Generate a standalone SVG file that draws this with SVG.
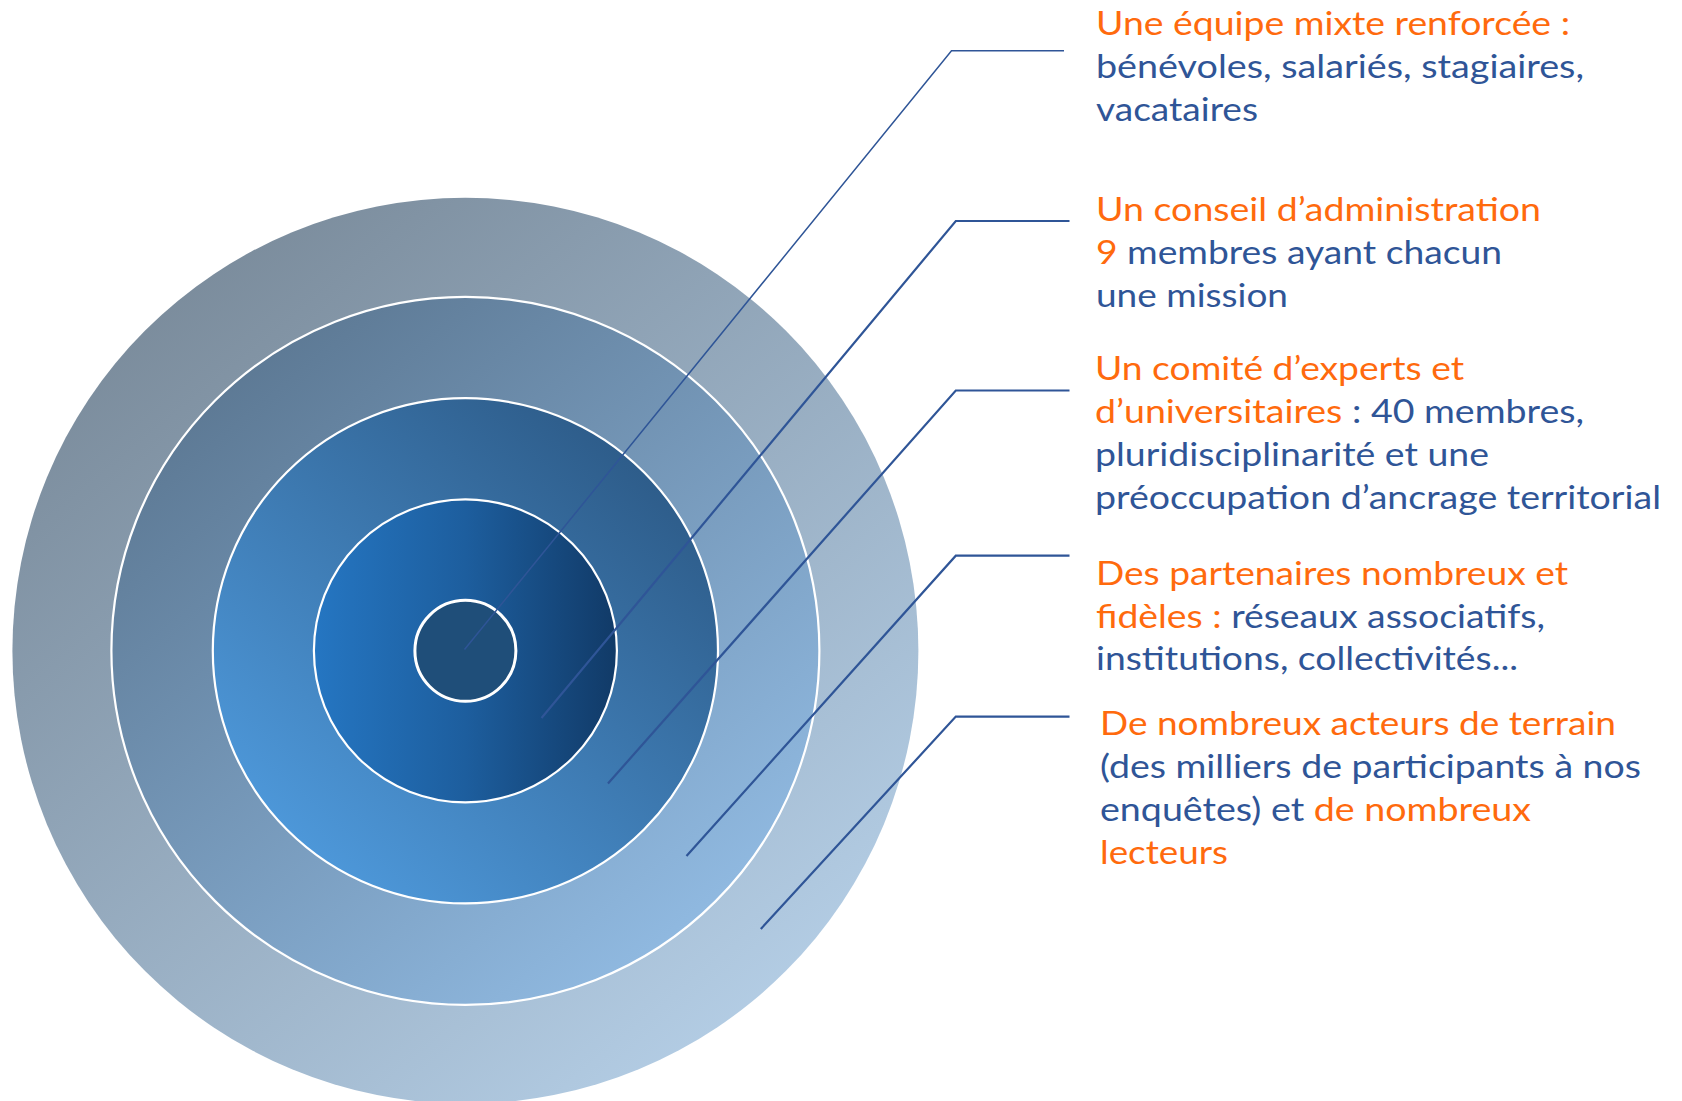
<svg xmlns="http://www.w3.org/2000/svg" width="1682" height="1101" viewBox="0 0 1682 1101">
  <defs>
    <linearGradient id="gOuter" x1="0.15" y1="0.1" x2="0.85" y2="0.95">
      <stop offset="0" stop-color="#7a8b9b"/>
      <stop offset="1" stop-color="#b6d0e8"/>
    </linearGradient>
    <linearGradient id="gRing2" x1="0.15" y1="0.1" x2="0.85" y2="0.95">
      <stop offset="0" stop-color="#5c7893"/>
      <stop offset="1" stop-color="#93bde5"/>
    </linearGradient>
    <linearGradient id="gRing3" x1="0.85" y1="0.1" x2="0.15" y2="0.9">
      <stop offset="0" stop-color="#2d5b88"/>
      <stop offset="1" stop-color="#4e99db"/>
    </linearGradient>
    <linearGradient id="gRing4" x1="0" y1="0" x2="1" y2="0">
      <stop offset="0" stop-color="#2576c2"/>
      <stop offset="0.5" stop-color="#1d5e9e"/>
      <stop offset="1" stop-color="#113a67"/>
    </linearGradient>
    <style>
      .ring { stroke: #ffffff; stroke-width: 2.2; }
      .conn { fill: none; stroke: #2f5597; stroke-width: 2.2; stroke-linejoin: miter; }
      .conn.thin { stroke-width: 1.5; }
      text { font-family: Lato, "Open Sans", "Liberation Sans", sans-serif; font-size: 33px; }
      .o { fill: #ff6a0d; }
      .b { fill: #2f5597; }
    </style>
  </defs>

  <rect width="1682" height="1101" fill="#ffffff"/>

  <g id="ring-outer">
    <circle cx="465.4" cy="650.8" r="453" fill="url(#gOuter)"/>
  </g>
  <g id="ring-2">
    <circle class="ring" cx="465.4" cy="650.8" r="354" fill="url(#gRing2)"/>
  </g>
  <g id="ring-3">
    <circle class="ring" cx="465.4" cy="650.8" r="252.6" fill="url(#gRing3)"/>
  </g>
  <g id="ring-4">
    <circle class="ring" cx="465.4" cy="650.8" r="151.5" fill="url(#gRing4)"/>
  </g>
  <g id="core">
    <circle cx="465.4" cy="650.8" r="50.5" fill="#1f4e79" stroke="#ffffff" stroke-width="3"/>
  </g>

  <g id="connectors">
    <polyline class="conn thin" points="464.5,649.5 951.5,50.8 1064,50.8"/>
    <polyline class="conn" points="541.5,718 955.8,221 1069.5,221"/>
    <polyline class="conn" points="608,783.5 955.8,390.5 1069.5,390.5"/>
    <polyline class="conn" points="686.5,856 955.8,555.7 1069.5,555.7"/>
    <polyline class="conn" points="760.8,929 955.8,716.6 1069.5,716.6"/>
  </g>

  <g id="label-1">
    <text x="1096" y="35.4" textLength="474" lengthAdjust="spacingAndGlyphs"><tspan class="o">Une équipe mixte renforcée :</tspan></text>
    <text x="1096" y="78.3" textLength="488" lengthAdjust="spacingAndGlyphs"><tspan class="b">bénévoles, salariés, stagiaires,</tspan></text>
    <text x="1096" y="121.2" textLength="162" lengthAdjust="spacingAndGlyphs"><tspan class="b">vacataires</tspan></text>
  </g>

  <g id="label-2">
    <text x="1096" y="221" textLength="445" lengthAdjust="spacingAndGlyphs"><tspan class="o">Un conseil d’administration</tspan></text>
    <text x="1096" y="264" textLength="406" lengthAdjust="spacingAndGlyphs"><tspan class="o">9</tspan><tspan class="b"> membres ayant chacun</tspan></text>
    <text x="1096" y="306.8" textLength="192" lengthAdjust="spacingAndGlyphs"><tspan class="b">une mission</tspan></text>
  </g>

  <g id="label-3">
    <text x="1095" y="380" textLength="369" lengthAdjust="spacingAndGlyphs"><tspan class="o">Un comité d’experts et</tspan></text>
    <text x="1095" y="423" textLength="489" lengthAdjust="spacingAndGlyphs"><tspan class="o">d’universitaires</tspan><tspan class="b"> : 40 membres,</tspan></text>
    <text x="1095" y="466" textLength="394" lengthAdjust="spacingAndGlyphs"><tspan class="b">pluridisciplinarité et une</tspan></text>
    <text x="1095" y="509" textLength="566" lengthAdjust="spacingAndGlyphs"><tspan class="b">préoccupation d’ancrage territorial</tspan></text>
  </g>

  <g id="label-4">
    <text x="1096" y="584.6" textLength="472" lengthAdjust="spacingAndGlyphs"><tspan class="o">Des partenaires nombreux et</tspan></text>
    <text x="1096" y="627.5" textLength="449" lengthAdjust="spacingAndGlyphs"><tspan class="o">fidèles :</tspan><tspan class="b"> réseaux associatifs,</tspan></text>
    <text x="1096" y="670.4" textLength="422" lengthAdjust="spacingAndGlyphs"><tspan class="b">institutions, collectivités...</tspan></text>
  </g>

  <g id="label-5">
    <text x="1100" y="734.8" textLength="516" lengthAdjust="spacingAndGlyphs"><tspan class="o">De nombreux acteurs de terrain</tspan></text>
    <text x="1100" y="777.7" textLength="541" lengthAdjust="spacingAndGlyphs"><tspan class="b">(des milliers de participants à nos</tspan></text>
    <text x="1100" y="820.6" textLength="431" lengthAdjust="spacingAndGlyphs"><tspan class="b">enquêtes) et </tspan><tspan class="o">de nombreux</tspan></text>
    <text x="1100" y="863.5" textLength="128" lengthAdjust="spacingAndGlyphs"><tspan class="o">lecteurs</tspan></text>
  </g>
</svg>
